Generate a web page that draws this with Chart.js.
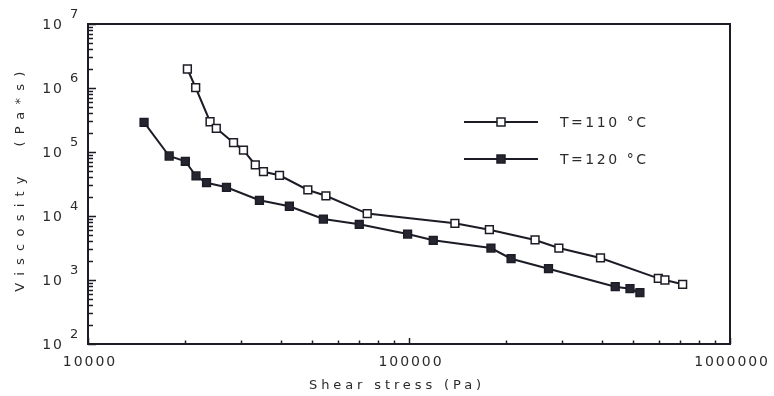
<!DOCTYPE html>
<html><head><meta charset="utf-8">
<style>html,body{margin:0;padding:0;background:#fff}#wrap{width:774px;height:396px}</style>
<script src="https://cdn.jsdelivr.net/npm/chart.js@4.4.1/dist/chart.umd.min.js"></script>
</head><body><div id="wrap"><canvas id="c" width="774" height="396"></canvas></div>
<script>
// ---- data ----
const seriesLabels = ['T=110 °C', 'T=120 °C'];
const shear110 = [20400, 21650, 24000, 25100, 28400, 30500, 33200, 35200, 39500, 48400, 55100, 74100, 139000, 178000, 247000, 293000, 395000, 598000, 627000, 712000];
const visc110  = [1980000, 1010000, 297000, 234000, 140000, 107000, 62700, 49200, 43300, 25500, 20700, 10900, 7690, 6110, 4220, 3160, 2210, 1060, 1000, 857];
const shear120 = [14950, 17900, 20100, 21700, 23400, 27000, 34200, 42400, 54100, 70000, 99000, 119000, 180000, 208000, 272000, 439000, 488000, 524000];
const visc120  = [291000, 86600, 71600, 42200, 33100, 28100, 17600, 14200, 8970, 7410, 5230, 4170, 3160, 2150, 1500, 785, 731, 633];
const xTickLabels = ['10000', '100000', '1000000'];
const yTickBase = '10';
const yExponents = ['2', '3', '4', '5', '6', '7'];
const xTitle = 'Shear stress (Pa)';
const yTitle = 'Viscosity  (Pa*s)';

const INK = '#1c1c26';
const TEXT = '#2b2b2b';
const FONT = '"DejaVu Sans", sans-serif';

function toPts(xs, ys) { return xs.map((x, i) => ({ x: x, y: ys[i] })); }

function decadeTicks(minExp, maxExp) {
  const t = [];
  for (let e = minExp; e < maxExp; e++) {
    for (let m = 1; m <= 9; m++) t.push({ value: m * Math.pow(10, e), major: m === 1 });
  }
  t.push({ value: Math.pow(10, maxExp), major: true });
  return t;
}

const xMinExp = Math.round(Math.log10(Number(xTickLabels[0])));
const xMaxExp = Math.round(Math.log10(Number(xTickLabels[xTickLabels.length - 1])));
const yMinExp = Number(yExponents[0]);
const yMaxExp = Number(yExponents[yExponents.length - 1]);

function fitText(ctx, text, target) {
  ctx.letterSpacing = '0px';
  const w = ctx.measureText(text).width;
  const sp = (target - w) / Math.max(1, text.length - 1);
  ctx.letterSpacing = sp.toFixed(2) + 'px';
}

const decor = {
  id: 'decor',
  afterDraw(chart) {
    const ctx = chart.ctx;
    const a = chart.chartArea;
    const xs = chart.scales.x, ys = chart.scales.y;
    ctx.save();
    // frame
    ctx.strokeStyle = INK;
    ctx.lineWidth = 2;
    ctx.strokeRect(a.left, a.top, a.right - a.left, a.bottom - a.top);
    // y ticks (inward, left side)
    ctx.lineWidth = 1.5;
    ys.ticks.forEach(t => {
      const py = Math.round(ys.getPixelForValue(t.value)) + 0.5;
      const len = t.major ? 8 : 5;
      ctx.beginPath(); ctx.moveTo(a.left, py); ctx.lineTo(a.left + len, py); ctx.stroke();
    });
    // x ticks (inward, bottom side)
    xs.ticks.forEach(t => {
      const px = Math.round(xs.getPixelForValue(t.value)) + 0.5;
      const len = t.major ? 6 : 3.5;
      ctx.beginPath(); ctx.moveTo(px, a.bottom); ctx.lineTo(px, a.bottom - len); ctx.stroke();
    });
    // y tick labels: 10 with superscript exponent
    ctx.fillStyle = TEXT;
    yExponents.forEach(ex => {
      const py = ys.getPixelForValue(Math.pow(10, Number(ex)));
      ctx.font = '14px ' + FONT;
      ctx.letterSpacing = '2px';
      ctx.textAlign = 'right';
      ctx.textBaseline = 'middle';
      ctx.fillText(yTickBase, 64, py + 1);
      ctx.font = '13px ' + FONT;
      ctx.letterSpacing = '0px';
      ctx.textAlign = 'left';
      ctx.fillText(ex, 70, py - 9);
    });
    // x tick labels
    ctx.font = '14px ' + FONT;
    ctx.textAlign = 'center';
    ctx.textBaseline = 'middle';
    xTickLabels.forEach(l => {
      const px = xs.getPixelForValue(Number(l));
      fitText(ctx, l, l.length * 10.5);
      ctx.fillText(l, px + 2, 362);
    });
    // x title
    ctx.font = '13px ' + FONT;
    fitText(ctx, xTitle, 172);
    ctx.textAlign = 'center';
    ctx.fillText(xTitle, 397, 386);
    // y title
    ctx.save();
    ctx.translate(21, 178);
    ctx.rotate(-Math.PI / 2);
    fitText(ctx, yTitle, 220);
    ctx.fillText(yTitle, 0, 0);
    ctx.restore();
    // legend
    const ds = chart.data.datasets;
    const legY = [122, 159];
    ds.forEach((d, i) => {
      const y = legY[i];
      ctx.strokeStyle = INK;
      ctx.lineWidth = 2;
      ctx.beginPath(); ctx.moveTo(464, y); ctx.lineTo(538, y); ctx.stroke();
      ctx.fillStyle = d.pointBackgroundColor;
      ctx.lineWidth = 1.5;
      ctx.fillRect(497, y - 4, 8, 8);
      ctx.strokeRect(497, y - 4, 8, 8);
      ctx.fillStyle = TEXT;
      ctx.font = '14px ' + FONT;
      ctx.textAlign = 'left';
      fitText(ctx, d.label, 86);
      ctx.fillText(d.label, 560, y + 1);
    });
    ctx.restore();
  }
};

const hideFit = function (scale) {
  if (scale.isHorizontal()) scale.height = 0; else scale.width = 0;
};

new Chart(document.getElementById('c'), {
  type: 'line',
  data: {
    datasets: [
      {
        label: seriesLabels[0],
        data: toPts(shear110, visc110),
        borderColor: INK, borderWidth: 2,
        pointStyle: 'rect', pointRadius: 5.5, pointBorderWidth: 1.5,
        pointBackgroundColor: '#ffffff', pointBorderColor: INK,
        fill: false, tension: 0
      },
      {
        label: seriesLabels[1],
        data: toPts(shear120, visc120),
        borderColor: INK, borderWidth: 2,
        pointStyle: 'rect', pointRadius: 5.5, pointBorderWidth: 1.5,
        pointBackgroundColor: '#262630', pointBorderColor: INK,
        fill: false, tension: 0
      }
    ]
  },
  options: {
    responsive: false,
    animation: false,
    devicePixelRatio: 1,
    layout: { padding: { left: 88, right: 44, top: 24, bottom: 52 } },
    plugins: { legend: { display: false }, tooltip: { enabled: false }, title: { display: false } },
    scales: {
      x: {
        type: 'logarithmic',
        min: Math.pow(10, xMinExp), max: Math.pow(10, xMaxExp),
        ticks: { display: false },
        grid: { display: false, drawTicks: false },
        border: { display: false },
        afterBuildTicks: s => { s.ticks = decadeTicks(xMinExp, xMaxExp); },
        afterFit: hideFit
      },
      y: {
        type: 'logarithmic',
        min: Math.pow(10, yMinExp), max: Math.pow(10, yMaxExp),
        ticks: { display: false },
        grid: { display: false, drawTicks: false },
        border: { display: false },
        afterBuildTicks: s => { s.ticks = decadeTicks(yMinExp, yMaxExp); },
        afterFit: hideFit
      }
    }
  },
  plugins: [decor]
});
</script>
</body></html>
